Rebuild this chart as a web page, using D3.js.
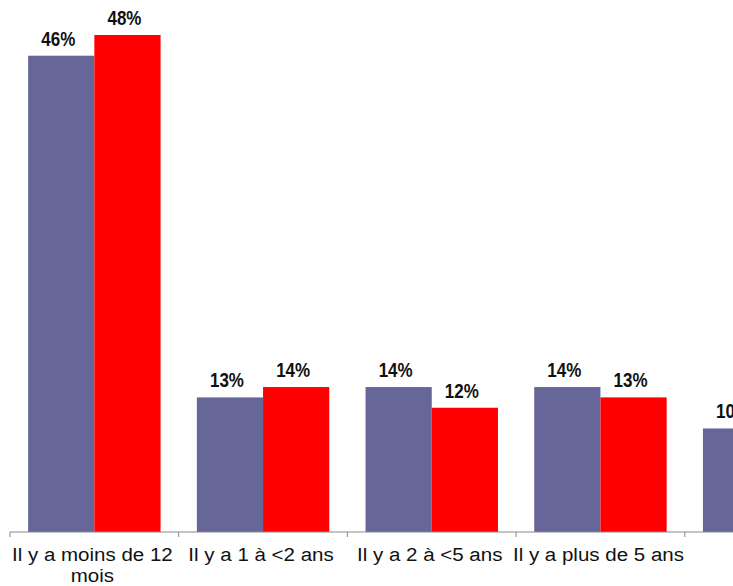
<!DOCTYPE html>
<html>
<head>
<meta charset="utf-8">
<script src="https://cdn.jsdelivr.net/npm/d3@7"></script>
<style>
  html, body { margin: 0; padding: 0; background: #fff; overflow: hidden; }
  svg { display: block; }
</style>
</head>
<body>
<svg id="chart" width="733" height="586"></svg>
<script>
// Ancienneté : catégories et pourcentages des deux séries
const categories = ["Il y a moins de 12 mois", "Il y a 1 à <2 ans", "Il y a 2 à <5 ans", "Il y a plus de 5 ans", "Jamais"];
const serieA = [46, 13, 14, 14, 10];
const serieB = [48, 14, 12, 13, 11];
const seriesNames = ["A", "B"];
const colors = ["#666699", "#FF0000"];

const svg = d3.select("#chart");
const baseY = 532;
const x0 = 10, step = 168.7;

const x = d3.scaleBand()
  .domain(categories)
  .range([x0, x0 + step * categories.length])
  .paddingInner(0.215)
  .paddingOuter(0.1075);

const xs = d3.scaleBand().domain(seriesNames).range([0, x.bandwidth()]);

const y = d3.scaleLinear().domain([0, 48]).range([baseY, 35]);

const rows = categories.map((c, i) => ({ c, v: [serieA[i], serieB[i]] }));

const g = svg.append("g");
const grp = g.selectAll("g.cat").data(rows).join("g")
  .attr("transform", d => `translate(${x(d.c)},0)`);

grp.selectAll("rect").data(d => d.v.map((v, k) => ({ k, v }))).join("rect")
  .attr("x", d => xs(seriesNames[d.k]))
  .attr("width", xs.bandwidth())
  .attr("y", d => y(d.v))
  .attr("height", d => baseY - y(d.v))
  .attr("fill", d => colors[d.k]);

grp.selectAll("text.val").data(d => d.v.map((v, k) => ({ k, v }))).join("text")
  .attr("class", "val")
  .attr("transform", d => `translate(${xs(seriesNames[d.k]) + xs.bandwidth() / 2 - 3},${y(d.v) - 10}) scale(1,1.2)`)
  .attr("text-anchor", "middle")
  .attr("font-family", "Liberation Sans, Arial, sans-serif")
  .attr("font-weight", "bold")
  .attr("font-size", 17)
  .attr("fill", "#111")
  .text(d => d.v + "%");

// Axe horizontal avec graduations entre les catégories
svg.append("line")
  .attr("x1", x0).attr("x2", 733)
  .attr("y1", baseY).attr("y2", baseY)
  .attr("stroke", "#888").attr("stroke-width", 1);

const ticks = d3.range(categories.length + 1).map(i => x0 + i * step);
svg.selectAll("line.tick").data(ticks).join("line")
  .attr("class", "tick")
  .attr("x1", d => d).attr("x2", d => d)
  .attr("y1", baseY).attr("y2", baseY + 5)
  .attr("stroke", "#888");

// Libellés des catégories (retour à la ligne si trop longs)
const lab = svg.selectAll("text.cat").data(categories).join("text")
  .attr("class", "cat")
  .attr("text-anchor", "middle")
  .attr("font-family", "Liberation Sans, Arial, sans-serif")
  .attr("font-size", 19)
  .attr("fill", "#111")
  .attr("transform", d => `translate(${x(d) + x.bandwidth() / 2 - 2},561) scale(1.08,1)`);

lab.each(function(d) {
  const t = d3.select(this);
  const lines = d === categories[0] ? ["Il y a moins de 12", "mois"] : [d];
  lines.forEach((l, i) => t.append("tspan").attr("x", 0).attr("y", i * 21).text(l));
});
</script>
</body>
</html>
